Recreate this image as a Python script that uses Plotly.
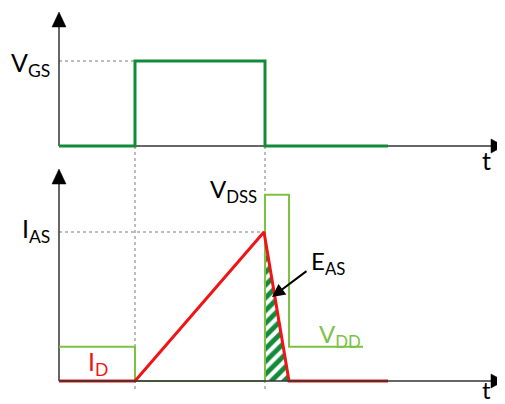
import plotly.graph_objects as go

# ---- data (time in arbitrary units, levels normalised) ----
t_vgs = [0, 7.6, 7.6, 20.6, 20.6, 32.9]
v_gs = [0, 0, 1, 1, 0, 0]

t_vds = [0, 7.6, 7.6, 20.6, 20.6, 23.0, 23.0, 30.4]
v_ds = [0.23, 0.23, 0, 0, 1.25, 1.25, 0.23, 0.23]

t_id = [0, 7.6, 20.5, 23.0, 32.9]
i_d = [0, 0, 1.0, 0, 0]

t_eas = [20.6, 20.6, 23.0]
e_as = [1.0, 0, 0]

VGS_LEVEL = 1.0
IAS_LEVEL = 1.0
T_ON = 7.6
T_OFF = 20.6

# page has an 8px body margin: figure covers reference pixels 8..505 x 8..404
OFF = 8
W, H = 505 - OFF, 404 - OFF
X0 = 59  # reference pixel of t=0

def tx(px):
    return (px - X0) / 10.0

def y1(py):
    return (146 - py) / 85.0

def y2(py):
    return (381 - py) / 149.0

def ppy(py):  # reference pixel -> paper y
    return 1 - (py - OFF) / H

DKGREEN = "#138a3a"
RED = "#f01414"
LTGREEN = "#7dc243"
AXIS = "#333333"
FONT = "Lato"

fig = go.Figure()

# hatched E_AS area
fig.add_trace(go.Scatter(x=t_eas, y=e_as, yaxis="y2", fill="toself", mode="lines",
                         line=dict(width=0, color="rgba(0,0,0,0)"),
                         fillcolor="white",
                         fillpattern=dict(shape="/", fgcolor=DKGREEN, bgcolor="white",
                                          fgopacity=1, size=9, solidity=0.55),
                         hoverinfo="skip", showlegend=False))

fig.add_trace(go.Scatter(x=t_vgs, y=v_gs, mode="lines", line=dict(color=DKGREEN, width=3),
                         showlegend=False))
fig.add_trace(go.Scatter(x=t_vds, y=v_ds, yaxis="y2", mode="lines",
                         line=dict(color=LTGREEN, width=2), showlegend=False))
fig.add_trace(go.Scatter(x=t_id, y=i_d, yaxis="y2", mode="lines",
                         line=dict(color=RED, width=3), showlegend=False))

shapes = []
dot = dict(color="#a8a8a8", width=1.5, dash="dot")
shapes.append(dict(type="line", xref="x", yref="y", x0=0, x1=T_ON, y0=VGS_LEVEL, y1=VGS_LEVEL, line=dot, layer="below"))
shapes.append(dict(type="line", xref="x", yref="y2", x0=0, x1=20.5, y0=IAS_LEVEL, y1=IAS_LEVEL, line=dot, layer="below"))
shapes.append(dict(type="line", xref="x", yref="paper", x0=T_ON, x1=T_ON, y0=ppy(146), y1=ppy(391), line=dot, layer="below"))
shapes.append(dict(type="line", xref="x", yref="paper", x0=T_OFF, x1=T_OFF, y0=ppy(146), y1=ppy(391), line=dot, layer="below"))

ax = dict(color=AXIS, width=1.5)
shapes.append(dict(type="line", xref="x", yref="y", x0=0, x1=0, y0=0, y1=y1(26), line=ax, layer="below"))
shapes.append(dict(type="line", xref="x", yref="y", x0=0, x1=tx(493), y0=0, y1=0, line=ax, layer="below"))
shapes.append(dict(type="line", xref="x", yref="y2", x0=0, x1=0, y0=0, y1=y2(184), line=ax, layer="below"))
shapes.append(dict(type="line", xref="x", yref="y2", x0=0, x1=tx(493), y0=0, y1=0, line=ax, layer="above"))

def tri(xref, yref, pts):
    p = "M " + " L ".join(f"{a},{b}" for a, b in pts) + " Z"
    return dict(type="path", xref=xref, yref=yref, path=p, fillcolor="black",
                line=dict(color="black", width=0.5))

shapes.append(tri("x", "y", [(tx(52), y1(27)), (tx(66), y1(27)), (tx(59), y1(12))]))
shapes.append(tri("x", "y", [(tx(491), y1(139)), (tx(491), y1(153)), (tx(504), y1(146))]))
shapes.append(tri("x", "y2", [(tx(52), y2(184)), (tx(66), y2(184)), (tx(59), y2(169))]))
shapes.append(tri("x", "y2", [(tx(491), y2(374)), (tx(491), y2(388)), (tx(504), y2(381))]))

ann = []
def label(text, px, py, yref, color="black", xanchor="left", size=25):
    yv = y1(py) if yref == "y" else y2(py)
    ann.append(dict(text=text, x=tx(px), y=yv, xref="x", yref=yref, showarrow=False,
                    xanchor=xanchor, yanchor="middle",
                    font=dict(family=FONT, size=size, color=color)))

label("V<sub>GS</sub>", 52, 64, "y", xanchor="right")
label("t", 486, 160, "y", xanchor="center")
label("I<sub>AS</sub>", 52, 230, "y2", xanchor="right")
label("V<sub>DSS</sub>", 259, 190, "y2", xanchor="right", size=24)
label("E<sub>AS</sub>", 309, 262, "y2", size=24)
label("V<sub>DD</sub>", 317, 335, "y2", color=LTGREEN, size=24)
label("I<sub>D</sub>", 86, 363, "y2", color=RED)
label("t", 486, 389, "y2", xanchor="center", size=24)

ann.append(dict(x=tx(272), y=y2(297), ax=tx(308), ay=y2(270), xref="x", yref="y2",
                axref="x", ayref="y2", showarrow=True, arrowhead=2, arrowsize=1.3,
                arrowwidth=2, arrowcolor="black", text=""))

fig.update_layout(
    width=W, height=H, margin=dict(l=0, r=0, t=0, b=0),
    paper_bgcolor="white", plot_bgcolor="white",
    xaxis=dict(range=[tx(OFF), tx(505)], visible=False, fixedrange=True),
    yaxis=dict(range=[y1(404), y1(OFF)], visible=False, domain=[0, 1]),
    yaxis2=dict(range=[y2(404), y2(OFF)], visible=False, overlaying="y", domain=[0, 1]),
    shapes=shapes, annotations=ann,
)

fig.write_html("out.html")
